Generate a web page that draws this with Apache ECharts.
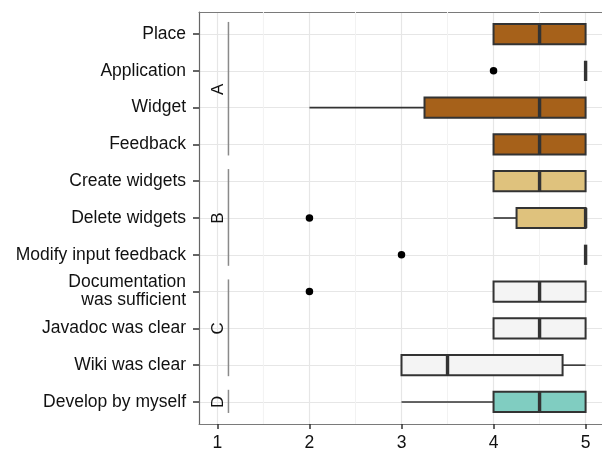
<!DOCTYPE html>
<html>
<head>
<meta charset="utf-8">
<script src="https://cdn.jsdelivr.net/npm/echarts@6/dist/echarts.min.js"></script>
<style>
html,body{margin:0;padding:0;background:#fff;}
#chart{width:602px;height:449px;}
</style>
</head>
<body>
<div id="chart"></div>
<script>
// ---- data ----
const categories = ['Place', 'Application', 'Widget', 'Feedback', 'Create widgets', 'Delete widgets',
  'Modify input feedback', 'Documentation\nwas sufficient', 'Javadoc was clear', 'Wiki was clear', 'Develop by myself'];
const rowGroup = ['A', 'A', 'A', 'A', 'B', 'B', 'B', 'C', 'C', 'C', 'D'];
const whiskerLow = [4, 5, 2, 4, 4, 4, 5, 4, 4, 3, 3];
const q1 = [4, 5, 3.25, 4, 4, 4.25, 5, 4, 4, 3, 4];
const median = [4.5, 5, 4.5, 4.5, 4.5, 5, 5, 4.5, 4.5, 3.5, 4.5];
const q3 = [5, 5, 5, 5, 5, 5, 5, 5, 5, 4.75, 5];
const whiskerHigh = [5, 5, 5, 5, 5, 5, 5, 5, 5, 5, 5];
const outlierRows = [1, 5, 6, 7];
const outlierValues = [4, 2, 3, 2];
const groupNames = ['A', 'B', 'C', 'D'];
const xTicks = [1, 2, 3, 4, 5];
const xMinorGrid = [1.5, 2.5, 3.5, 4.5];

// ---- styles ----
const groupColors = { A: '#a6611a', B: '#dfc27d', C: '#f4f4f4', D: '#80cdc1' };
const FONT = 'Liberation Sans, Arial, Helvetica, sans-serif';
const BORDER = '#7a7a7a';
const X_MIN = 0.8, X_MAX = 5.2;
const rows = categories.map((_, i) => i);

const boxData = rows.map(i => [i, whiskerLow[i], q1[i], median[i], q3[i], whiskerHigh[i], groupNames.indexOf(rowGroup[i])]);
const outlierData = outlierRows.map((r, k) => [outlierValues[k], r]);
const groupData = groupNames.map((g, gi) => {
  const idx = rows.filter(i => rowGroup[i] === g);
  const first = idx[0], last = idx[idx.length - 1];
  return [gi, (first + last) / 2, first, last];
});
const minorData = xMinorGrid.map(v => [v]);

const chart = echarts.init(document.getElementById('chart'), null, { renderer: 'canvas' });
chart.setOption({
  backgroundColor: '#ffffff',
  animation: false,
  grid: { left: 199, top: 12, width: 405, height: 412, show: false, containLabel: false, outerBoundsMode: 'none' },
  xAxis: [{
    type: 'value', min: X_MIN, max: X_MAX, position: 'bottom',
    axisLine: { show: true, onZero: false, lineStyle: { color: BORDER, width: 1 } },
    axisTick: { show: true, length: 5, customValues: xTicks, lineStyle: { color: '#333', width: 1.5 } },
    axisLabel: { customValues: xTicks, margin: 10, fontSize: 17.5, fontFamily: FONT, color: '#111' },
    splitLine: { show: true, lineStyle: { color: '#e6e6e6', width: 1.2 } }
  }, {
    type: 'value', min: X_MIN, max: X_MAX, position: 'top',
    axisLine: { show: true, onZero: false, lineStyle: { color: BORDER, width: 1 } },
    axisTick: { show: false }, axisLabel: { show: false }, splitLine: { show: false }
  }],
  yAxis: {
    type: 'value', min: -0.6, max: 10.6, inverse: true, position: 'left',
    axisLine: { show: true, onZero: false, lineStyle: { color: '#666', width: 1.2 } },
    axisTick: { show: true, length: 6, customValues: rows, lineStyle: { color: '#333', width: 1.5 } },
    axisLabel: {
      customValues: rows, margin: 13, fontSize: 17.5, lineHeight: 18, fontFamily: FONT, color: '#111',
      formatter: v => categories[Math.round(v)] || ''
    },
    splitLine: { show: true, lineStyle: { color: '#e6e6e6', width: 1.2 } }
  },
  series: [
    {
      type: 'custom', name: 'minorGrid', data: minorData, silent: true, z: 1,
      encode: { x: 0 },
      renderItem: (params, api) => {
        const cs = params.coordSys;
        const x = api.coord([api.value(0), 0])[0];
        return { type: 'line', shape: { x1: x, y1: cs.y, x2: x, y2: cs.y + cs.height }, style: { stroke: '#f2f2f2', lineWidth: 1 } };
      }
    },
    {
      type: 'custom', name: 'groups', data: groupData, silent: true, z: 2,
      encode: { y: [1, 2, 3] },
      renderItem: (params, api) => {
        const g = groupNames[api.value(0)];
        const mid = api.value(1), first = api.value(2), last = api.value(3);
        const t = api.coord([1.01, mid]);
        const a = api.coord([1.12, first - 0.33]);
        const b = api.coord([1.12, last + 0.3]);
        return {
          type: 'group',
          children: [
            { type: 'line', shape: { x1: a[0], y1: a[1], x2: b[0], y2: b[1] }, style: { stroke: '#8a8a8a', lineWidth: 1.5 } },
            { type: 'text', x: t[0], y: t[1], rotation: Math.PI / 2,
              style: { text: g, fontSize: 17, fontFamily: FONT, fill: '#111', align: 'center', verticalAlign: 'middle' } }
          ]
        };
      }
    },
    {
      type: 'custom', name: 'boxes', data: boxData, silent: true, z: 3,
      encode: { x: [1, 2, 3, 4, 5], y: 0 },
      renderItem: (params, api) => {
        const row = api.value(0);
        const lo = api.value(1), b1 = api.value(2), md = api.value(3), b3 = api.value(4), hi = api.value(5);
        const fill = groupColors[groupNames[api.value(6)]];
        const h = api.size([0, 0.55])[1];
        const pLo = api.coord([lo, row]), p1 = api.coord([b1, row]), pM = api.coord([md, row]), p3 = api.coord([b3, row]), pHi = api.coord([hi, row]);
        const y = pLo[1];
        const children = [];
        const stroke = '#333333';
        if (lo < b1) children.push({ type: 'line', shape: { x1: pLo[0], y1: y, x2: p1[0], y2: y }, style: { stroke, lineWidth: 1.6 } });
        if (hi > b3) children.push({ type: 'line', shape: { x1: p3[0], y1: y, x2: pHi[0], y2: y }, style: { stroke, lineWidth: 1.6 } });
        if (b3 > b1) children.push({ type: 'rect', shape: { x: p1[0], y: y - h / 2, width: p3[0] - p1[0], height: h }, style: { fill, stroke, lineWidth: 2 } });
        children.push({ type: 'line', shape: { x1: pM[0], y1: y - h / 2, x2: pM[0], y2: y + h / 2 }, style: { stroke, lineWidth: 3.4 } });
        return { type: 'group', children };
      }
    },
    {
      type: 'scatter', name: 'outliers', data: outlierData, symbol: 'circle', symbolSize: 7.5,
      itemStyle: { color: '#000', opacity: 1 }, silent: true, z: 5
    }
  ]
});
</script>
</body>
</html>
